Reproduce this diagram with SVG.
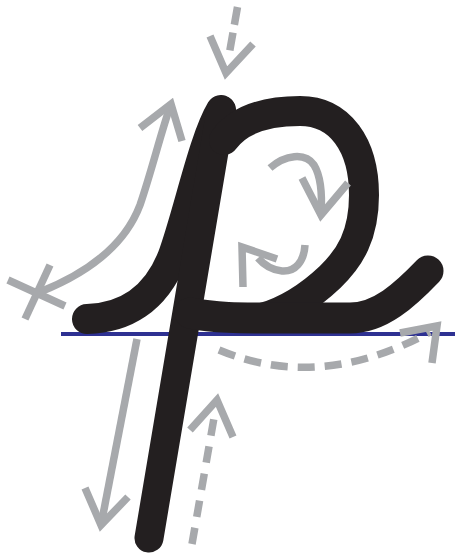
<svg xmlns="http://www.w3.org/2000/svg" width="461" height="558" viewBox="0 0 461 558">
  <style>
    .ink { fill: none; stroke: #231f20; stroke-linecap: round; stroke-linejoin: round; }
    .g { fill: none; stroke: #a7a9ac; stroke-width: 7.5; stroke-linecap: butt; stroke-linejoin: miter; stroke-miterlimit: 10; }
    .d { stroke-dasharray: 17 10; }
  </style>
  <rect width="461" height="558" fill="#ffffff"/>
  <!-- baseline -->
  <line x1="61" y1="334" x2="455" y2="334" stroke="#2e3192" stroke-width="4"/>
  <!-- letter p -->
  <g id="letter">
    <path class="ink" stroke-width="30" d="M87,319 C125,318 155,300 172,258 C188,215 203,140 221,110"/>
    <path class="ink" stroke-width="29" d="M221,110 L149,538"/>
    <path class="ink" stroke-width="30" d="M224,140 C240,118 268,111 300,111 C340,111 364,145 364,195 C364,235 350,258 330,277 C312,294 290,310 262,318"/>
    <path class="ink" stroke-width="31" d="M190,313 C215,318 240,318 270,318 L350,318 C380,318 405,295 428,271"/>
  </g>
  <!-- guide arrows -->
  <g id="arrows">
    <g id="a-top">
      <path class="g d" d="M237.5,7 L228.5,58" style="stroke-dasharray:18 8"/>
      <polyline class="g" points="210,36 226,73 253,44"/>
    </g>
    <g id="a-up">
      <line class="g" x1="8" y1="280" x2="65" y2="306"/>
      <line class="g" x1="50" y1="265" x2="25" y2="319"/>
      <path class="g" d="M40,292 C90,272 125,245 140,205 C152,170 161,132 171,104"/>
      <polyline class="g" points="140,128 171,104 182,141"/>
    </g>
    <g id="a-bowl1">
      <path class="g" d="M270,168 C285,155 305,152 314,165 C322,178 322,200 321,215"/>
      <polyline class="g" points="302,178 321,215 348,183"/>
    </g>
    <g id="a-bowl2">
      <path class="g" d="M305,245 C304,262 295,272 282,271 C272,270 264,265 258,258"/>
      <polyline class="g" points="277,259 242,247 243,287"/>
    </g>
    <g id="a-down">
      <line class="g" x1="137" y1="339" x2="101" y2="525"/>
      <polyline class="g" points="85,488 101,525 128,497"/>
    </g>
    <g id="a-retrace">
      <path class="g" d="M192,544 L214,418" style="stroke-dasharray:16.5 11"/>
      <polyline class="g" points="190,430 217,400 233,437"/>
    </g>
    <g id="a-exit">
      <path class="g d" d="M219,350 Q320,392 430,332"/>
      <polyline class="g" points="400,333 437,326 432,363"/>
    </g>
  </g>
</svg>
